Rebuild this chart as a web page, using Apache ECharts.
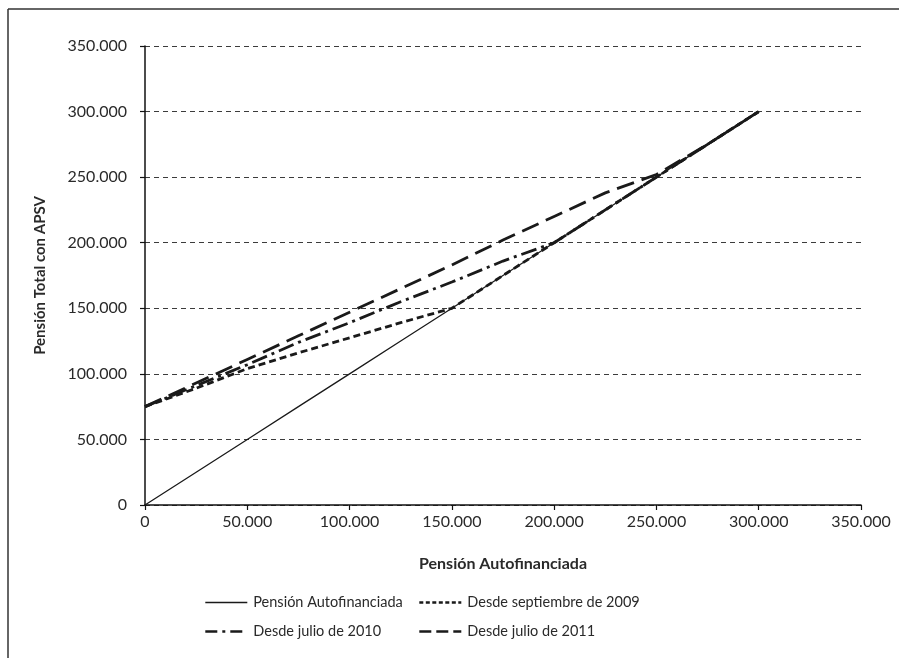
<!DOCTYPE html>
<html>
<head>
<meta charset="utf-8">
<script src="https://cdn.jsdelivr.net/npm/echarts@6/dist/echarts.min.js"></script>
<style>
html,body{margin:0;padding:0;background:#fff;}
#c{width:899px;height:658px;}
</style>
</head>
<body>
<div id="c"></div>
<script>
// ---- data ----
var xValues = [0, 25000, 50000, 75000, 100000, 125000, 150000, 175000, 200000, 225000, 250000, 275000, 300000];
var autofinanciada = [0, 25000, 50000, 75000, 100000, 125000, 150000, 175000, 200000, 225000, 250000, 275000, 300000];
var sept2009 = [75000, 89000, 104000, 116000, 127500, 139000, 150000, 175000, 200000, 225000, 250000, 275000, 300000];
var julio2010 = [75000, 91000, 107000, 124000, 139000, 155000, 170000, 186000, 200000, 225000, 250000, 275000, 300000];
var julio2011 = [75000, 93000, 111000, 129000, 147000, 165000, 183000, 202000, 220000, 238000, 252000, 275000, 300000];
var seriesNames = ['Pensión Autofinanciada', 'Desde septiembre de 2009', 'Desde julio de 2010', 'Desde julio de 2011'];
var axisTicks = [0, 50000, 100000, 150000, 200000, 250000, 300000, 350000];

function pairs(ys){ return xValues.map(function(x,i){ return [x, ys[i]]; }); }
function fmt(v){ return String(v).replace(/\B(?=(\d{3})+(?!\d))/g, '.'); }

var FONT = 'Lato';
var TXT = '#2a2a2a';
var LC = '#1a1a1a';
var styles = [
  {width: 1.3, type: 'solid'},
  {width: 2.8, type: [7, 4]},
  {width: 2.8, type: [16, 5, 3, 5]},
  {width: 2.8, type: [18, 8]}
];
var legendStyles = [
  {width: 1.3, type: 'solid'},
  {width: 2.6, type: [4, 2.5]},
  {width: 2.6, type: [12, 5, 3, 5]},
  {width: 2.6, type: [12, 5]}
];

function legendItem(i){
  return {name: seriesNames[i], itemStyle: {opacity: 0},
          lineStyle: {color: LC, width: legendStyles[i].width, type: legendStyles[i].type}};
}

var chart = echarts.init(document.getElementById('c'), null, {renderer: 'canvas'});
chart.setOption({
  animation: false,
  backgroundColor: '#ffffff',
  textStyle: {fontFamily: FONT},
  grid: {left: 145, right: 38, top: 46, bottom: 153, containLabel: false},
  xAxis: {
    type: 'value', min: axisTicks[0], max: axisTicks[axisTicks.length-1], interval: 50000,
    name: 'Pensión Autofinanciada', nameLocation: 'middle', nameGap: 51,
    nameTextStyle: {fontFamily: FONT, fontWeight: 'bold', fontSize: 16, color: TXT},
    axisLine: {show: true, onZero: false, lineStyle: {color: '#111', width: 1.5}},
    axisTick: {show: true, length: 5, lineStyle: {color: '#111', width: 1.2}},
    axisLabel: {fontFamily: FONT, fontSize: 16, color: TXT, margin: 9, formatter: fmt},
    splitLine: {show: false}
  },
  yAxis: {
    type: 'value', min: axisTicks[0], max: axisTicks[axisTicks.length-1], interval: 50000,
    name: 'Pensión Total con APSV', nameLocation: 'middle', nameGap: 97,
    nameTextStyle: {fontFamily: FONT, fontWeight: 'bold', fontSize: 15, color: TXT},
    axisLine: {show: true, onZero: false, lineStyle: {color: '#111', width: 1.5}},
    axisTick: {show: true, length: 5, lineStyle: {color: '#111', width: 1.2}},
    axisLabel: {fontFamily: FONT, fontSize: 16, color: TXT, margin: 18, formatter: fmt},
    splitLine: {show: true, lineStyle: {color: '#3c3c3c', width: 1, type: [5, 4]}}
  },
  legend: [
    {
      data: [legendItem(0), legendItem(2)],
      orient: 'vertical', left: 199, top: 590, itemGap: 14,
      itemWidth: 42, itemHeight: 14,
      textStyle: {fontFamily: FONT, fontSize: 14.5, color: TXT, padding: [0,0,0,1]}
    },
    {
      data: [legendItem(1), legendItem(3)],
      orient: 'vertical', left: 413, top: 590, itemGap: 14,
      itemWidth: 42, itemHeight: 14,
      textStyle: {fontFamily: FONT, fontSize: 14.5, color: TXT, padding: [0,0,0,1]}
    }
  ],
  series: [
    {name: seriesNames[0], type: 'line', data: pairs(autofinanciada), symbol: 'none', z: 5,
     lineStyle: {color: LC, width: styles[0].width, type: styles[0].type}, itemStyle: {color: LC}},
    {name: seriesNames[1], type: 'line', data: pairs(sept2009), symbol: 'none', z: 4,
     lineStyle: {color: LC, width: styles[1].width, type: styles[1].type}, itemStyle: {color: LC}},
    {name: seriesNames[2], type: 'line', data: pairs(julio2010), symbol: 'none', z: 3,
     lineStyle: {color: LC, width: styles[2].width, type: styles[2].type}, itemStyle: {color: LC}},
    {name: seriesNames[3], type: 'line', data: pairs(julio2011), symbol: 'none', z: 2,
     lineStyle: {color: LC, width: styles[3].width, type: styles[3].type}, itemStyle: {color: LC}}
  ],
  graphic: [
    {type: 'line', shape: {x1: 8, y1: 9, x2: 899, y2: 9}, style: {stroke: '#333', lineWidth: 1.5}},
    {type: 'line', shape: {x1: 8, y1: 9, x2: 8, y2: 658}, style: {stroke: '#333', lineWidth: 1.5}}
  ]
});
</script>
</body>
</html>
